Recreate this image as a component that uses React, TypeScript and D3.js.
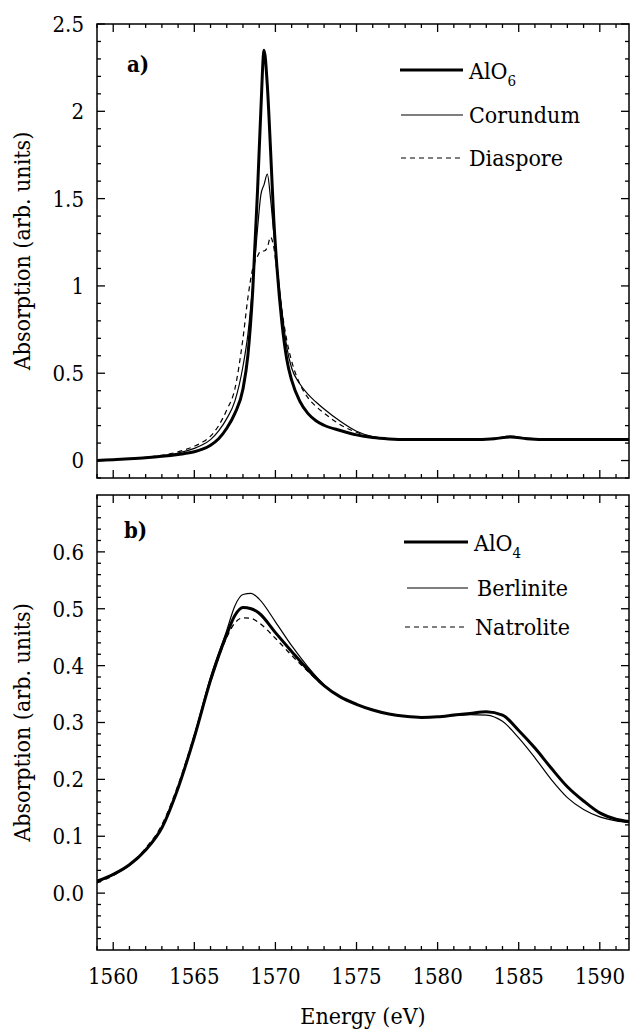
import React from "react";
import * as d3 from "d3";

// ---------- Data: panel a (AlO6) ----------
const energyA = [1559, 1560, 1561, 1562, 1563, 1564, 1565, 1565.5, 1566, 1566.5, 1567, 1567.5, 1568, 1568.3, 1568.6, 1568.9, 1569.1, 1569.3, 1569.5, 1569.7, 1569.9, 1570.1, 1570.4, 1570.7, 1571, 1571.5, 1572, 1572.5, 1573, 1574, 1575, 1576, 1577, 1578, 1580, 1582, 1583.5, 1584.5, 1585.5, 1587, 1589, 1591.8];
const alo6 = [0.0, 0.005, 0.01, 0.016, 0.024, 0.035, 0.05, 0.065, 0.088, 0.125, 0.185, 0.27, 0.41, 0.6, 0.97, 1.55, 2.0, 2.35, 2.15, 1.78, 1.38, 1.1, 0.79, 0.58, 0.46, 0.34, 0.27, 0.228, 0.202, 0.172, 0.147, 0.132, 0.124, 0.12, 0.12, 0.12, 0.125, 0.135, 0.125, 0.12, 0.12, 0.12];
const corundum = [0.0, 0.005, 0.01, 0.017, 0.027, 0.043, 0.07, 0.09, 0.12, 0.17, 0.24, 0.34, 0.54, 0.72, 1.0, 1.33, 1.52, 1.58, 1.64, 1.5, 1.3, 1.12, 0.86, 0.65, 0.53, 0.44, 0.38, 0.335, 0.295, 0.225, 0.168, 0.137, 0.124, 0.12, 0.12, 0.12, 0.127, 0.14, 0.128, 0.12, 0.12, 0.12];
const diaspore = [0.0, 0.005, 0.01, 0.018, 0.03, 0.05, 0.082, 0.105, 0.14, 0.2, 0.29, 0.41, 0.7, 0.93, 1.1, 1.17, 1.2, 1.2, 1.22, 1.28, 1.22, 1.08, 0.86, 0.69, 0.57, 0.44, 0.36, 0.31, 0.272, 0.205, 0.162, 0.136, 0.124, 0.12, 0.12, 0.12, 0.125, 0.135, 0.125, 0.12, 0.12, 0.12];

// ---------- Data: panel b (AlO4) ----------
const energyB = [1559, 1560, 1561, 1562, 1563, 1564, 1565, 1566, 1567, 1567.5, 1568, 1568.5, 1569, 1570, 1571, 1572, 1573, 1574, 1575, 1576, 1577, 1578, 1579, 1580, 1581, 1582, 1583, 1584, 1585, 1586, 1587, 1588, 1589, 1590, 1591, 1591.8];
const alo4 = [0.021, 0.033, 0.05, 0.076, 0.115, 0.185, 0.274, 0.374, 0.455, 0.488, 0.502, 0.5, 0.492, 0.458, 0.425, 0.393, 0.365, 0.345, 0.332, 0.322, 0.315, 0.311, 0.309, 0.31, 0.313, 0.316, 0.319, 0.313, 0.286, 0.255, 0.22, 0.187, 0.162, 0.141, 0.13, 0.126];
const berlinite = [0.02, 0.032, 0.049, 0.075, 0.115, 0.186, 0.277, 0.38, 0.462, 0.505, 0.525, 0.527, 0.517, 0.477, 0.435, 0.398, 0.366, 0.345, 0.332, 0.322, 0.315, 0.311, 0.309, 0.31, 0.312, 0.314, 0.313, 0.302, 0.273, 0.238, 0.2, 0.168, 0.147, 0.134, 0.127, 0.124];
const natrolite = [0.018, 0.031, 0.05, 0.079, 0.12, 0.19, 0.278, 0.372, 0.45, 0.475, 0.484, 0.483, 0.475, 0.448, 0.418, 0.39, 0.364, 0.345, 0.332, 0.322, 0.315, 0.311, 0.309, 0.31, 0.313, 0.316, 0.319, 0.313, 0.286, 0.255, 0.22, 0.187, 0.162, 0.141, 0.13, 0.126];

// ---------- Ticks ----------
const xMajorTicks = [1560, 1565, 1570, 1575, 1580, 1585, 1590];
const xTickLabels = ["1560", "1565", "1570", "1575", "1580", "1585", "1590"];
const yMajorA = [0, 0.5, 1, 1.5, 2, 2.5];
const yLabelsA = ["0", "0.5", "1", "1.5", "2", "2.5"];
const yMajorB = [0, 0.1, 0.2, 0.3, 0.4, 0.5, 0.6];
const yLabelsB = ["0.0", "0.1", "0.2", "0.3", "0.4", "0.5", "0.6"];

const W = 630;
const H = 1034;
const left = 97;
const right = 629;
const serif = "'DejaVu Serif Condensed', 'DejaVu Serif'";

const x = d3.scaleLinear().domain([1559, 1591.8]).range([left, right]);
const yA = d3.scaleLinear().domain([-0.1, 2.5]).range([478, 24]);
const yB = d3.scaleLinear().domain([-0.1, 0.7]).range([950, 495]);

const xMinor = d3.range(1559, 1592, 1).filter((v) => v % 5 !== 0);

function Frame({ y, majorY, minorY, labels }: any) {
  const [y0, y1] = y.range();
  const top = y1;
  const bottom = y0;
  const els: any[] = [];
  xMajorTicks.forEach((v, i) => {
    const px = x(v);
    els.push(<line key={"xbM" + i} x1={px} x2={px} y1={bottom} y2={bottom - 8} />);
    els.push(<line key={"xtM" + i} x1={px} x2={px} y1={top} y2={top + 8} />);
  });
  xMinor.forEach((v, i) => {
    const px = x(v);
    els.push(<line key={"xbm" + i} x1={px} x2={px} y1={bottom} y2={bottom - 4} />);
    els.push(<line key={"xtm" + i} x1={px} x2={px} y1={top} y2={top + 4} />);
  });
  majorY.forEach((v: number, i: number) => {
    const py = y(v);
    els.push(<line key={"ylM" + i} x1={left} x2={left + 8} y1={py} y2={py} />);
    els.push(<line key={"yrM" + i} x1={right} x2={right - 8} y1={py} y2={py} />);
  });
  minorY.forEach((v: number, i: number) => {
    const py = y(v);
    els.push(<line key={"ylm" + i} x1={left} x2={left + 4} y1={py} y2={py} />);
    els.push(<line key={"yrm" + i} x1={right} x2={right - 4} y1={py} y2={py} />);
  });
  return (
    <g>
      <rect x={left} y={top} width={right - left} height={bottom - top} fill="none" stroke="#000" strokeWidth={1.5} />
      <g stroke="#000" strokeWidth={1.3}>{els}</g>
      <g fontSize={22} textAnchor="end">
        {majorY.map((v: number, i: number) => (
          <text key={i} x={84} y={y(v)} dy="0.36em">{labels[i]}</text>
        ))}
      </g>
    </g>
  );
}

function Curves({ energy, y, series }: any) {
  const gen = (vals: number[]) =>
    d3.line<number>()
      .x((_, i) => x(energy[i]))
      .y((v) => y(v))
      .curve(d3.curveMonotoneX)(vals) as string;
  return (
    <g fill="none" stroke="#000" strokeLinejoin="round">
      {series.map((s: any, i: number) => (
        <path key={i} d={gen(s.values)} strokeWidth={s.w} strokeDasharray={s.dash || undefined} />
      ))}
    </g>
  );
}

export default function App() {
  const minorA = d3.range(-0.1, 2.5001, 0.1).map((v) => Math.round(v * 10) / 10).filter((v) => Math.abs(v * 2 - Math.round(v * 2)) > 1e-6);
  const minorB = d3.range(-0.1, 0.7001, 0.02).map((v) => Math.round(v * 100) / 100).filter((v) => Math.abs(v * 10 - Math.round(v * 10)) > 1e-6);

  return (
    <svg width={W} height={H} fontFamily={serif} style={{ position: "absolute", left: 0, top: 0, background: "#fff", fontStretch: "condensed" }}>
      <defs>
        <clipPath id="clipA"><rect x={left} y={24} width={right - left} height={454} /></clipPath>
        <clipPath id="clipB"><rect x={left} y={495} width={right - left} height={455} /></clipPath>
      </defs>
      <rect x={0} y={0} width={W} height={H} fill="#fff" />

      {/* Panel a */}
      <g clipPath="url(#clipA)">
        <Curves energy={energyA} y={yA} series={[
          { values: diaspore, w: 1.2, dash: "5,4" },
          { values: corundum, w: 1.2 },
          { values: alo6, w: 3 },
        ]} />
      </g>
      <Frame y={yA} majorY={yMajorA} minorY={minorA} labels={yLabelsA} />
      <text x={127} y={72} fontSize={22} fontWeight="bold">a)</text>
      <g fontSize={23} stroke="#000" fill="#000">
        <line x1={400} x2={463} y1={70} y2={70} strokeWidth={3} />
        <text x={469} y={79} stroke="none">AlO<tspan fontSize={15} dy={7}>6</tspan></text>
        <line x1={401} x2={463} y1={115} y2={115} strokeWidth={1.2} />
        <text x={469} y={123} stroke="none">Corundum</text>
        <line x1={401} x2={463} y1={158} y2={158} strokeWidth={1.2} strokeDasharray="5,4" />
        <text x={469} y={166} stroke="none">Diaspore</text>
      </g>
      <text transform={`translate(30,${(24 + 478) / 2}) rotate(-90)`} textAnchor="middle" fontSize={23}>Absorption (arb. units)</text>

      {/* Panel b */}
      <g clipPath="url(#clipB)">
        <Curves energy={energyB} y={yB} series={[
          { values: natrolite, w: 1.3, dash: "5,4" },
          { values: berlinite, w: 1.2 },
          { values: alo4, w: 3 },
        ]} />
      </g>
      <Frame y={yB} majorY={yMajorB} minorY={minorB} labels={yLabelsB} />
      <text x={124} y={538} fontSize={22} fontWeight="bold">b)</text>
      <g fontSize={23} stroke="#000" fill="#000">
        <line x1={404} x2={468} y1={542} y2={542} strokeWidth={3} />
        <text x={474} y={551} stroke="none">AlO<tspan fontSize={15} dy={7}>4</tspan></text>
        <line x1={407} x2={468} y1={588} y2={588} strokeWidth={1.2} />
        <text x={477} y={596} stroke="none">Berlinite</text>
        <line x1={405} x2={467} y1={627} y2={627} strokeWidth={1.2} strokeDasharray="5,4" />
        <text x={475} y={635} stroke="none">Natrolite</text>
      </g>
      <text transform={`translate(30,${(495 + 950) / 2}) rotate(-90)`} textAnchor="middle" fontSize={23}>Absorption (arb. units)</text>

      {/* x axis labels */}
      <g fontSize={22} textAnchor="middle">
        {xMajorTicks.map((v, i) => (
          <text key={i} x={x(v)} y={984}>{xTickLabels[i]}</text>
        ))}
      </g>
      <text x={(left + right) / 2} y={1024} textAnchor="middle" fontSize={23}>Energy (eV)</text>
    </svg>
  );
}
